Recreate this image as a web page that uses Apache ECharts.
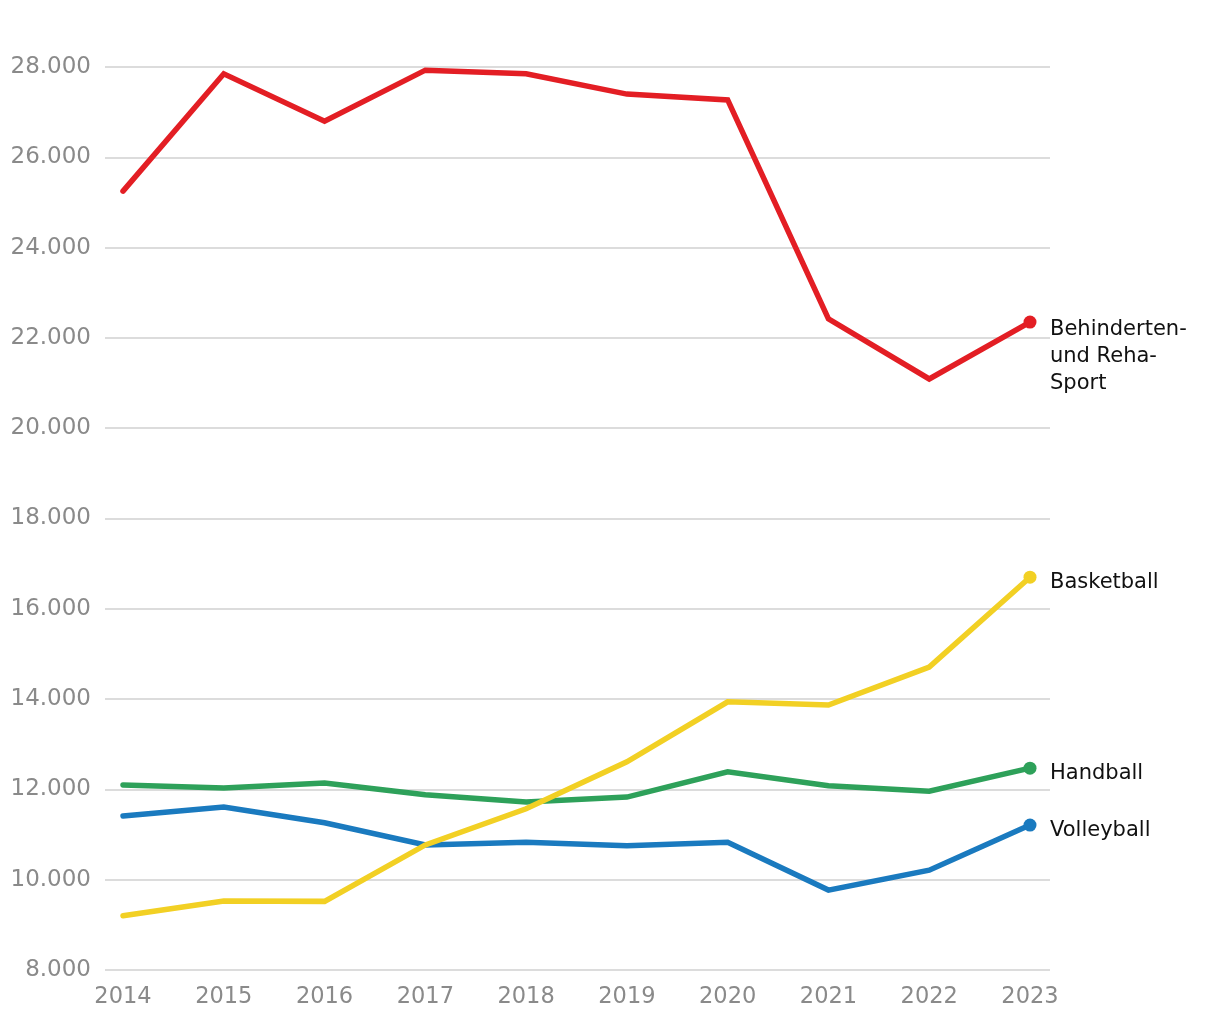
<!DOCTYPE html>
<html><head><meta charset="utf-8">
<script src="https://cdn.jsdelivr.net/npm/echarts@6/dist/echarts.min.js"></script>
<style>html,body{margin:0;padding:0;background:#fff}#c{width:1220px;height:1020px}</style>
</head><body><div id="c"></div>
<script>
const years = ['2014','2015','2016','2017','2018','2019','2020','2021','2022','2023'];
const rehaSport = [25250, 27850, 26800, 27930, 27850, 27400, 27270, 22420, 21090, 22350];
const basketball = [9200, 9530, 9520, 10770, 11570, 12610, 13940, 13870, 14710, 16700];
const handball = [12100, 12030, 12140, 11880, 11720, 11830, 12390, 12080, 11960, 12470];
const volleyball = [11410, 11610, 11260, 10770, 10830, 10750, 10830, 9770, 10210, 11210];
const yTicks = {min: 8000, max: 28000, interval: 2000};

const FONT = 'DejaVu Sans';
function mk(name, data, color, labelOffset) {
  return {
    name, type: 'line', data, xAxisIndex: 1, yAxisIndex: 1,
    symbol: 'circle', symbolSize: (v, p) => p.dataIndex === data.length - 1 ? 13 : 0,
    showSymbol: true,
    lineStyle: {color, width: 5.5, join: 'miter', cap: 'round'},
    itemStyle: {color},
    emphasis: {disabled: true},
    endLabel: {
      show: true, formatter: name, distance: 20, offset: labelOffset,
      fontFamily: FONT, fontSize: 21, color: '#111', lineHeight: 27, align: 'left'
    },
    z: 3
  };
}
const chart = echarts.init(document.getElementById('c'));
chart.setOption({
  animation: false,
  backgroundColor: '#fff',
  grid: [
    {left: 105, right: 170, top: 67, bottom: 50},
    {left: 123, right: 190, top: 67, bottom: 50}
  ],
  xAxis: [
    {gridIndex: 0, type: 'category', data: years, show: false},
    {gridIndex: 1, type: 'category', data: years, boundaryGap: false,
     axisLine: {show: false}, axisTick: {show: false},
     axisLabel: {fontFamily: FONT, fontSize: 22.5, color: '#8a8a8a', margin: 16}}
  ],
  yAxis: [
    {gridIndex: 0, type: 'value', min: yTicks.min, max: yTicks.max, interval: yTicks.interval,
     axisLine: {show: false}, axisTick: {show: false},
     splitLine: {lineStyle: {color: '#dcdcdc', width: 2}},
     axisLabel: {fontFamily: FONT, fontSize: 23, color: '#8a8a8a', margin: 14,
       formatter: v => v.toLocaleString('de-DE')}},
    {gridIndex: 1, type: 'value', min: yTicks.min, max: yTicks.max, interval: yTicks.interval,
     show: false, splitLine: {show: false}}
  ],
  series: [
    mk('Volleyball', volleyball, '#1a7abf', [0, 5]),
    mk('Handball', handball, '#2ea15a', [0, 5]),
    mk('Basketball', basketball, '#f2d024', [0, 5]),
    mk('Behinderten-\nund Reha-\nSport', rehaSport, '#e31e24', [0, 34])
  ]
});
</script></body></html>
